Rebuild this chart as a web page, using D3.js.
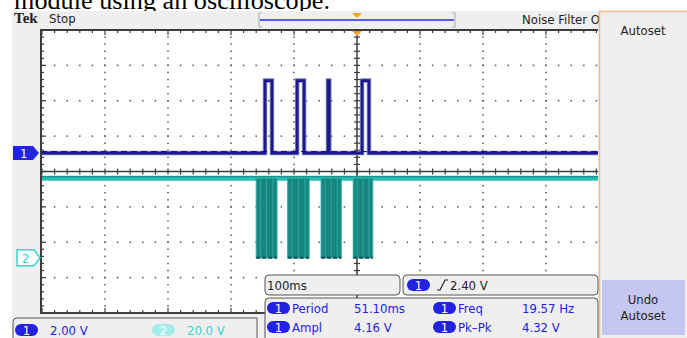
<!DOCTYPE html>
<html><head><meta charset="utf-8">
<script src="https://cdn.jsdelivr.net/npm/d3@7"></script>
<style>html,body{margin:0;padding:0;background:#fff;}svg{display:block;}</style>
</head><body>
<svg id="c" width="687" height="338"></svg>
<script>
// ---- data ----
const caption = "module using an oscilloscope.";
const ch1PulseStart = [-146, -95, -46, 8];      // ms
const ch1PulseWidth = [11, 11, 2, 11];          // ms
const ch1Low = 0, ch1High = 4.1;                // V
const ch2BurstStart = [-160, -110, -57, -6];    // ms
const ch2BurstEnd = [-127, -76, -25, 25];       // ms
const ch2Low = 0, ch2High = 45;                 // V
const chScale = ["2.00 V", "20.0 V"];
const timebase = "100ms";
const trigLevel = "2.40 V";
const measLabels = ["Period", "Ampl", "Freq", "Pk\u2013Pk"];
const measValues = ["51.10ms", "4.16 V", "19.57 Hz", "4.32 V"];
const menuItems = ["Autoset", "Undo", "Autoset"];

// ---- layout ----
const svg = d3.select("#c");
const F = "'Liberation Sans Narrow','DejaVu Sans Condensed','Roboto Condensed','Liberation Sans',sans-serif";
const GRAY = "#efefef", DARK = "#3c3c3c", BLUE = "#2222e0", TEAL = "#2fd6d2";
const x = d3.scaleLinear().domain([-500, 500]).range([42, 672]);
const yd = d3.scaleLinear().domain([4, -4]).range([30, 313]);
const ch1Pos = 0.52, ch2Pos = -2.44;
const y1 = v => yd(v / 2 + ch1Pos);
const y2 = v => yd(v / 20 + ch2Pos);
const L = 41, R = 598, T = 30, B = 313;

// caption (cut off at top)
svg.append("text").attr("x", 14).attr("y", 9).attr("font-family", "'Liberation Serif','DejaVu Serif',serif")
  .attr("font-size", 26).attr("textLength", 316).attr("lengthAdjust", "spacingAndGlyphs").attr("fill", "#000").text(caption);

// screen background
svg.append("rect").attr("x", 12).attr("y", 11).attr("width", 675).attr("height", 327).attr("fill", GRAY);
// plot area
svg.append("rect").attr("x", L).attr("y", T).attr("width", R - L).attr("height", B - T).attr("fill", "#fff");

const g = svg.append("g");
const clip = svg.append("clipPath").attr("id", "pc");
clip.append("rect").attr("x", L).attr("y", T - 6).attr("width", R - L).attr("height", B - T + 6);
const pg = g.append("g").attr("clip-path", "url(#pc)");

// grid dots
const majT = d3.range(-400, 401, 100).filter(t => t !== 0);
const minT = d3.range(-500, 501, 20);
const majD = d3.range(-3, 4, 1).filter(d => d !== 0);
const minD = d3.range(-4, 4.001, 0.2);
majT.forEach(t => minD.forEach(d => {
  pg.append("rect").attr("x", x(t) - 0.75).attr("y", yd(d) - 0.75).attr("width", 1.5).attr("height", 1.5).attr("fill", "#555");
}));
majD.forEach(d => minT.forEach(t => {
  pg.append("rect").attr("x", x(t) - 0.75).attr("y", yd(d) - 0.75).attr("width", 1.5).attr("height", 1.5).attr("fill", "#555");
}));
// center cross
pg.append("line").attr("x1", L).attr("x2", R).attr("y1", yd(0)).attr("y2", yd(0)).attr("stroke", DARK).attr("stroke-width", 1.5);
pg.append("line").attr("x1", x(0)).attr("x2", x(0)).attr("y1", T).attr("y2", B).attr("stroke", DARK).attr("stroke-width", 1.5);
minT.forEach(t => pg.append("line").attr("x1", x(t)).attr("x2", x(t)).attr("y1", yd(0) - 3).attr("y2", yd(0) + 3).attr("stroke", DARK).attr("stroke-width", 1.2));
minD.forEach(d => pg.append("line").attr("x1", x(0) - 3).attr("x2", x(0) + 3).attr("y1", yd(d)).attr("y2", yd(d)).attr("stroke", DARK).attr("stroke-width", 1.2));
// border ticks
minT.forEach(t => {
  const len = (Math.round(t) % 100 === 0) ? 5 : 3;
  pg.append("line").attr("x1", x(t)).attr("x2", x(t)).attr("y1", T).attr("y2", T + len).attr("stroke", DARK).attr("stroke-width", 1.2);
  pg.append("line").attr("x1", x(t)).attr("x2", x(t)).attr("y1", B).attr("y2", B - len).attr("stroke", DARK).attr("stroke-width", 1.2);
});
minD.forEach(d => {
  const len = (Math.abs(d - Math.round(d)) < 1e-6) ? 5 : 3;
  pg.append("line").attr("x1", L).attr("x2", L + len).attr("y1", yd(d)).attr("y2", yd(d)).attr("stroke", DARK).attr("stroke-width", 1.2);
});
// border
g.append("path").attr("d", `M${R},${T}H${L}V${B}H${R}`).attr("fill", "none").attr("stroke", DARK).attr("stroke-width", 2);

// ---- channel 2 ----
pg.append("line").attr("x1", L).attr("x2", R).attr("y1", y2(ch2High)).attr("y2", y2(ch2High))
  .attr("stroke", "#2cbdb7").attr("stroke-width", 5);
pg.append("line").attr("x1", L).attr("x2", R).attr("y1", y2(ch2High) - 1.5).attr("y2", y2(ch2High) - 1.5)
  .attr("stroke", "#138a85").attr("stroke-width", 1);
ch2BurstStart.forEach((s, i) => {
  const e = ch2BurstEnd[i];
  pg.append("rect").attr("x", x(s)).attr("y", y2(ch2High)).attr("width", x(e) - x(s)).attr("height", y2(ch2Low) - y2(ch2High))
    .attr("fill", "#17867f").attr("stroke", "#2aa9a3").attr("stroke-width", 1);
  [0.2, 0.5, 0.8].forEach(f => {
    const xx = x(s + (e - s) * f);
    pg.append("line").attr("x1", xx).attr("x2", xx).attr("y1", y2(ch2High)).attr("y2", y2(ch2Low))
      .attr("stroke", "#2aa8a2").attr("stroke-width", 1);
  });
  pg.append("line").attr("x1", x(s)).attr("x2", x(e)).attr("y1", y2(ch2Low)).attr("y2", y2(ch2Low))
    .attr("stroke", "#0d4f4b").attr("stroke-width", 2).attr("stroke-dasharray", "4,2");
});

// ---- channel 1 ----
const pts = [[-500, ch1Low]];
ch1PulseStart.forEach((s, i) => {
  const e = s + ch1PulseWidth[i];
  pts.push([s, ch1Low], [s, ch1High], [e, ch1High], [e, ch1Low]);
});
pts.push([500, ch1Low]);
const line1 = d3.line().x(d => x(d[0])).y(d => y1(d[1]));
pg.append("path").attr("d", line1(pts)).attr("fill", "none").attr("stroke", "#8484b8").attr("stroke-width", 4.5);
pg.append("path").attr("d", line1(pts)).attr("fill", "none").attr("stroke", "#1a1a8e").attr("stroke-width", 2.6);
pg.append("line").attr("x1", L).attr("x2", R).attr("y1", y1(ch1Low) - 1.5).attr("y2", y1(ch1Low) - 1.5)
  .attr("stroke", "#10106a").attr("stroke-width", 1).attr("stroke-dasharray", "6,4");

// trigger marker at top of plot
g.append("path").attr("d", `M${x(0) - 5},${T + 1}H${x(0) + 5}L${x(0)},${T + 6}Z`).attr("fill", "#f4a020");

// channel markers
svg.append("path").attr("d", `M13,146H33L39,${y1(0)}L33,160H13Z`).attr("fill", BLUE);
svg.append("text").attr("x", 20).attr("y", y1(0) + 5).attr("font-family", F).attr("font-size", 13).attr("fill", "#fff").text("1");
const m2 = y2(0);
svg.append("path").attr("d", `M17,${m2 - 8}H34L40,${m2}L34,${m2 + 8}H17Z`).attr("fill", "#fff").attr("stroke", TEAL).attr("stroke-width", 1.5);
svg.append("text").attr("x", 22).attr("y", m2 + 5).attr("font-family", F).attr("font-size", 13).attr("fill", TEAL).text("2");

// ---- top bar ----
svg.append("text").attr("x", 14).attr("y", 23).attr("font-family", "'Liberation Serif','DejaVu Serif',serif").attr("font-weight", "bold")
  .attr("font-size", 15).attr("fill", "#222").text("Tek");
svg.append("text").attr("x", 49).attr("y", 23).attr("font-family", F).attr("font-size", 13).attr("fill", "#222").text("Stop");
svg.append("path").attr("d", "M262,13H259V27H262M452,13H455V27H452").attr("fill", "none").attr("stroke", "#b4b4b4").attr("stroke-width", 1.2);
svg.append("line").attr("x1", 260).attr("x2", 454).attr("y1", 20).attr("y2", 20).attr("stroke", "#5a5af0").attr("stroke-width", 2);
svg.append("path").attr("d", `M${x(0) - 5},13H${x(0) + 5}L${x(0)},18Z`).attr("fill", "#f4a020");
svg.append("text").attr("x", 522).attr("y", 24).attr("font-family", F).attr("font-size", 13).attr("fill", "#222").text("Noise Filter Off");

// ---- bottom readouts ----
function pill(px, py, w, h, fill, label, tcol) {
  svg.append("rect").attr("x", px).attr("y", py).attr("width", w).attr("height", h).attr("rx", h / 2).attr("fill", fill);
  svg.append("text").attr("x", px + w / 2).attr("y", py + h / 2 + 4.5).attr("text-anchor", "middle").attr("font-family", F)
    .attr("font-size", 13).attr("fill", tcol).text(label);
}
function txt(tx, ty, s, col) {
  svg.append("text").attr("x", tx).attr("y", ty).attr("font-family", F).attr("font-size", 13).attr("fill", col).text(s);
}
// channel scale box
svg.append("path").attr("d", "M13,340V322Q13,318 17,318H257V340").attr("fill", GRAY).attr("stroke", "#555").attr("stroke-width", 1);
pill(15, 324, 23, 12, BLUE, "1", "#fff");
txt(50, 335, chScale[0], BLUE);
pill(152, 324, 23, 12, "#a6ecea", "2", "#fff");
txt(187, 335, chScale[1], TEAL);

// timebase box
svg.append("rect").attr("x", 265).attr("y", 275).attr("width", 135).attr("height", 20).attr("rx", 4).attr("fill", GRAY).attr("stroke", "#555");
txt(267, 290, timebase, "#222");
// trigger box
svg.append("rect").attr("x", 403).attr("y", 275).attr("width", 195).attr("height", 20).attr("rx", 4).attr("fill", GRAY).attr("stroke", "#555");
pill(407, 279, 23, 12, BLUE, "1", "#fff");
svg.append("path").attr("d", "M437,290H440L445,280H448").attr("fill", "none").attr("stroke", "#222").attr("stroke-width", 1.2);
txt(450, 290, trigLevel, "#222");
// measurement box
svg.append("rect").attr("x", 265).attr("y", 298).attr("width", 333).attr("height", 50).attr("rx", 4).attr("fill", GRAY).attr("stroke", "#555");
const rowsY = [308, 327];
[0, 1].forEach(r => {
  pill(267, rowsY[r] - 6, 23, 12, BLUE, "1", "#fff");
  txt(292, rowsY[r] + 5, measLabels[r], BLUE);
  txt(354, rowsY[r] + 5, measValues[r], BLUE);
  pill(433, rowsY[r] - 6, 23, 12, BLUE, "1", "#fff");
  txt(458, rowsY[r] + 5, measLabels[r + 2], BLUE);
  txt(522, rowsY[r] + 5, measValues[r + 2], BLUE);
});

// ---- right menu ----
svg.append("rect").attr("x", 599.5).attr("y", 11.5).attr("width", 90).attr("height", 330).attr("fill", GRAY).attr("stroke", "#f3b98a").attr("stroke-width", 1.5);
svg.append("text").attr("x", 643).attr("y", 35).attr("text-anchor", "middle").attr("font-family", F).attr("font-size", 13).attr("fill", "#222").text(menuItems[0]);
svg.append("rect").attr("x", 602).attr("y", 280).attr("width", 83).attr("height", 55).attr("fill", "#c6c6f2");
svg.append("text").attr("x", 643).attr("y", 304).attr("text-anchor", "middle").attr("font-family", F).attr("font-size", 13).attr("fill", "#222").text(menuItems[1]);
svg.append("text").attr("x", 643).attr("y", 320).attr("text-anchor", "middle").attr("font-family", F).attr("font-size", 13).attr("fill", "#222").text(menuItems[2]);
</script>
</body></html>
